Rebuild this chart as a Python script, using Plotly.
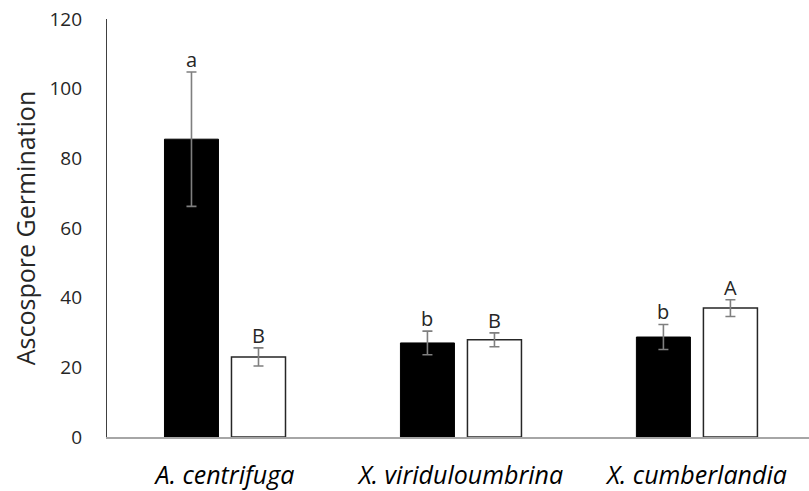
import plotly.graph_objects as go

categories = ["A. centrifuga", "X. viriduloumbrina", "X. cumberlandia"]
black_values = [85.5, 27.0, 28.7]
black_errors = [19.3, 3.4, 3.6]
black_letters = ["a", "b", "b"]
white_values = [23.0, 27.9, 37.0]
white_errors = [2.6, 2.0, 2.4]
white_letters = ["B", "B", "A"]
y_ticks = [0, 20, 40, 60, 80, 100, 120]

FONT = "Open Sans"
x_idx = list(range(len(categories)))

fig = go.Figure()
fig.add_trace(go.Bar(
    x=x_idx, y=black_values,
    marker=dict(color="black", line=dict(color="black", width=1)),
    error_y=dict(type="data", array=black_errors, color="#7f7f7f", thickness=1.6, width=5),
    showlegend=False,
))
fig.add_trace(go.Bar(
    x=x_idx, y=white_values,
    marker=dict(color="white", line=dict(color="#262626", width=1.5)),
    error_y=dict(type="data", array=white_errors, color="#7f7f7f", thickness=1.6, width=5),
    showlegend=False,
))

annotations = []
for i in x_idx:
    annotations.append(dict(x=i, y=black_values[i] + black_errors[i], text=black_letters[i],
                            xref="x", yref="y", showarrow=False, yanchor="bottom",
                            xshift=-33.5, yshift=-3,
                            font=dict(family=FONT, size=20, color="#262626")))
    annotations.append(dict(x=i, y=white_values[i] + white_errors[i], text=white_letters[i],
                            xref="x", yref="y", showarrow=False, yanchor="bottom",
                            xshift=33.5, yshift=-3,
                            font=dict(family=FONT, size=20, color="#262626")))

fig.update_layout(
    width=809, height=491,
    margin=dict(l=107, r=0, t=19, b=54),
    paper_bgcolor="white", plot_bgcolor="white",
    barmode="group", bargap=0.432, bargroupgap=0.194,
    annotations=annotations,
    font=dict(family=FONT, size=18, color="#262626"),
    xaxis=dict(
        tickmode="array", tickvals=x_idx, ticktext=categories,
        range=[-0.5, 2.475], showgrid=False, zeroline=False,
        showline=True, linecolor="#a6a6a6", linewidth=1.5,
        ticks="outside", ticklen=15, tickcolor="rgba(0,0,0,0)",
        automargin=False, ticklabeloverflow="allow",
        tickfont=dict(family=FONT, size=25, color="#000000", style="italic"),
    ),
    yaxis=dict(
        range=[0, 120], tickvals=y_ticks, showgrid=False, zeroline=False,
        showline=True, linecolor="#404040", linewidth=1.2,
        ticks="outside", ticklen=20, tickcolor="rgba(0,0,0,0)",
        automargin=False, ticklabeloverflow="allow",
        tickfont=dict(family=FONT, size=19, color="#262626"),
        title=dict(text="Ascospore Germination", standoff=6,
                   font=dict(family=FONT, size=25, color="#262626")),
    ),
)

fig.write_html("out.html",
               config={"displayModeBar": False},
               post_script="document.body.style.margin='0';document.body.style.overflow='hidden';")
